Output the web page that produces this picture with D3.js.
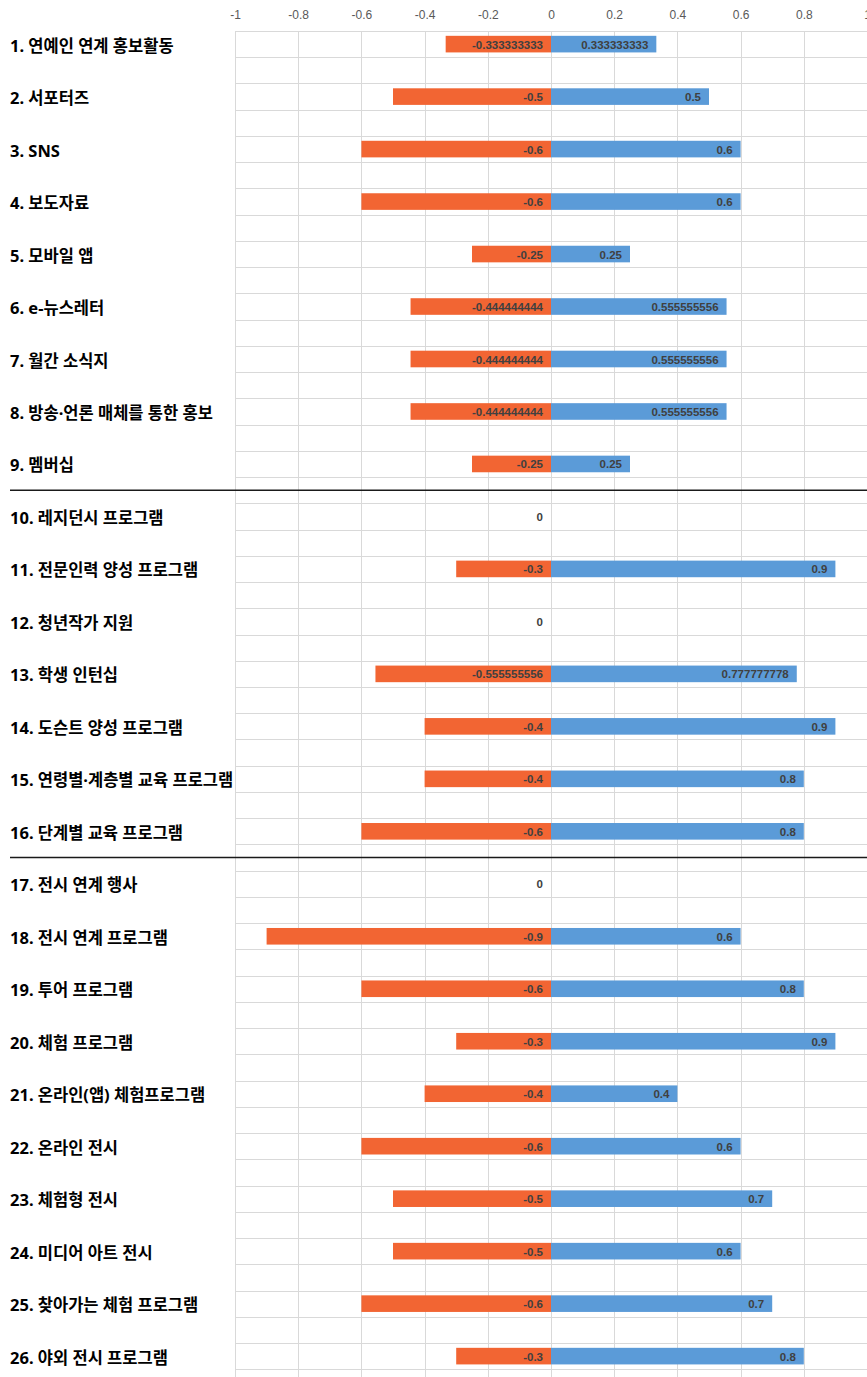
<!DOCTYPE html>
<html>
<head>
<meta charset="utf-8">
<script src="https://cdn.jsdelivr.net/npm/d3@7"></script>
<style>
  html, body { margin: 0; padding: 0; background: #fff; }
  svg { display: block; }
</style>
</head>
<body>
<svg id="chart" width="867" height="1377"></svg>
<script>
// Program items, grouped into three sections (1–9, 10–16, 17–26)
const categories = [
  "1. 연예인 연계 홍보활동", "2. 서포터즈", "3. SNS", "4. 보도자료", "5. 모바일 앱",
  "6. e-뉴스레터", "7. 월간 소식지", "8. 방송·언론 매체를 통한 홍보", "9. 멤버십",
  "10. 레지던시 프로그램", "11. 전문인력 양성 프로그램", "12. 청년작가 지원", "13. 학생 인턴십",
  "14. 도슨트 양성 프로그램", "15. 연령별·계층별 교육 프로그램", "16. 단계별 교육 프로그램",
  "17. 전시 연계 행사", "18. 전시 연계 프로그램", "19. 투어 프로그램", "20. 체험 프로그램",
  "21. 온라인(앱) 체험프로그램", "22. 온라인 전시", "23. 체험형 전시", "24. 미디어 아트 전시",
  "25. 찾아가는 체험 프로그램", "26. 야외 전시 프로그램"
];

// Negative side (orange)
const negValues = [
  -0.333333333, -0.5, -0.6, -0.6, -0.25, -0.444444444, -0.444444444, -0.444444444, -0.25,
  0, -0.3, 0, -0.555555556, -0.4, -0.4, -0.6,
  0, -0.9, -0.6, -0.3, -0.4, -0.6, -0.5, -0.5, -0.6, -0.3
];

// Positive side (blue)
const posValues = [
  0.333333333, 0.5, 0.6, 0.6, 0.25, 0.555555556, 0.555555556, 0.555555556, 0.25,
  0, 0.9, 0, 0.777777778, 0.9, 0.8, 0.8,
  0, 0.6, 0.8, 0.9, 0.4, 0.6, 0.7, 0.6, 0.7, 0.8
];

const tickValues = [-1, -0.8, -0.6, -0.4, -0.2, 0, 0.2, 0.4, 0.6, 0.8, 1];
const tickLabels = ["-1", "-0.8", "-0.6", "-0.4", "-0.2", "0", "0.2", "0.4", "0.6", "0.8", "1"];

// Section breaks drawn before these items
const sectionStarts = ["10. 레지던시 프로그램", "17. 전시 연계 행사"];

const svg = d3.select("#chart");
const plotLeft = 235, plotRight = 867, plotTop = 31;
const rowStep = 52.48;

const x = d3.scaleLinear().domain([-1, 1]).range([plotLeft, plotRight]);
const y = d3.scaleBand()
  .domain(categories)
  .range([plotTop, plotTop + rowStep * categories.length])
  .padding(0);

const half = y.bandwidth() / 2;
const barH = 16.6;
const slotCenter = c => y(c) + half / 2;

const fmt = v => {
  if (v === 0) return "0";
  return String(+v.toFixed(9));
};

// Gridlines: vertical at each tick, horizontal at every half-band
const grid = svg.append("g").attr("stroke", "#d9d9d9").attr("stroke-width", 1);
tickValues.forEach(t => {
  grid.append("line")
    .attr("x1", Math.round(x(t)) + 0.5).attr("x2", Math.round(x(t)) + 0.5)
    .attr("y1", plotTop).attr("y2", 1377);
});
categories.forEach(c => {
  [y(c), y(c) + half].forEach(yy => {
    grid.append("line")
      .attr("x1", plotLeft).attr("x2", plotRight)
      .attr("y1", Math.round(yy) + 0.5).attr("y2", Math.round(yy) + 0.5);
  });
});

// Top axis labels
const axis = d3.axisTop(x).tickValues(tickValues)
  .tickFormat((d, i) => tickLabels[i]).tickSize(0).tickPadding(0);
const axisG = svg.append("g").attr("transform", "translate(0,19)").call(axis);
axisG.select(".domain").remove();
axisG.selectAll("text")
  .attr("fill", "#595959")
  .style("font-family", "'Liberation Sans', Arial, sans-serif")
  .style("font-size", "12px");

// Bars
const rows = categories.map((c, i) => ({ c, neg: negValues[i], pos: posValues[i] }));

svg.append("g").selectAll("rect").data(rows).join("rect")
  .attr("x", d => x(d.neg))
  .attr("width", d => x(0) - x(d.neg))
  .attr("y", d => slotCenter(d.c) - barH / 2)
  .attr("height", barH)
  .attr("fill", "#F26533");

svg.append("g").selectAll("rect").data(rows).join("rect")
  .attr("x", x(0))
  .attr("width", d => x(d.pos) - x(0))
  .attr("y", d => slotCenter(d.c) - barH / 2)
  .attr("height", barH)
  .attr("fill", "#5B9BD8");

// Data labels
const labelStyle = sel => sel
  .attr("text-anchor", "end")
  .attr("dominant-baseline", "central")
  .attr("fill", "#404040")
  .style("font-family", "'Liberation Sans', Arial, sans-serif")
  .style("font-weight", "bold")
  .style("font-size", "11.5px");

svg.append("g").selectAll("text").data(rows).join("text")
  .attr("x", x(0) - 8)
  .attr("y", d => slotCenter(d.c) + 0.5)
  .text(d => fmt(d.neg))
  .call(labelStyle);

svg.append("g").selectAll("text").data(rows.filter(d => d.pos !== 0)).join("text")
  .attr("x", d => x(d.pos) - 8)
  .attr("y", d => slotCenter(d.c) + 0.5)
  .text(d => fmt(d.pos))
  .call(labelStyle);

// Category labels
svg.append("g").selectAll("text").data(categories).join("text")
  .attr("x", 10)
  .attr("y", d => slotCenter(d) + 1)
  .attr("dominant-baseline", "central")
  .attr("fill", "#000")
  .style("font-family", "'Noto Sans', 'Noto Sans CJK KR', sans-serif")
  .style("font-weight", "bold")
  .style("font-size", "16.5px")
  .text(d => d);

// Section separators
sectionStarts.forEach(c => {
  const yy = y(c) - half / 2;
  svg.append("line")
    .attr("x1", 10).attr("x2", 867)
    .attr("y1", yy).attr("y2", yy)
    .attr("stroke", "#1a1a1a")
    .attr("stroke-width", 1.6);
});
</script>
</body>
</html>
